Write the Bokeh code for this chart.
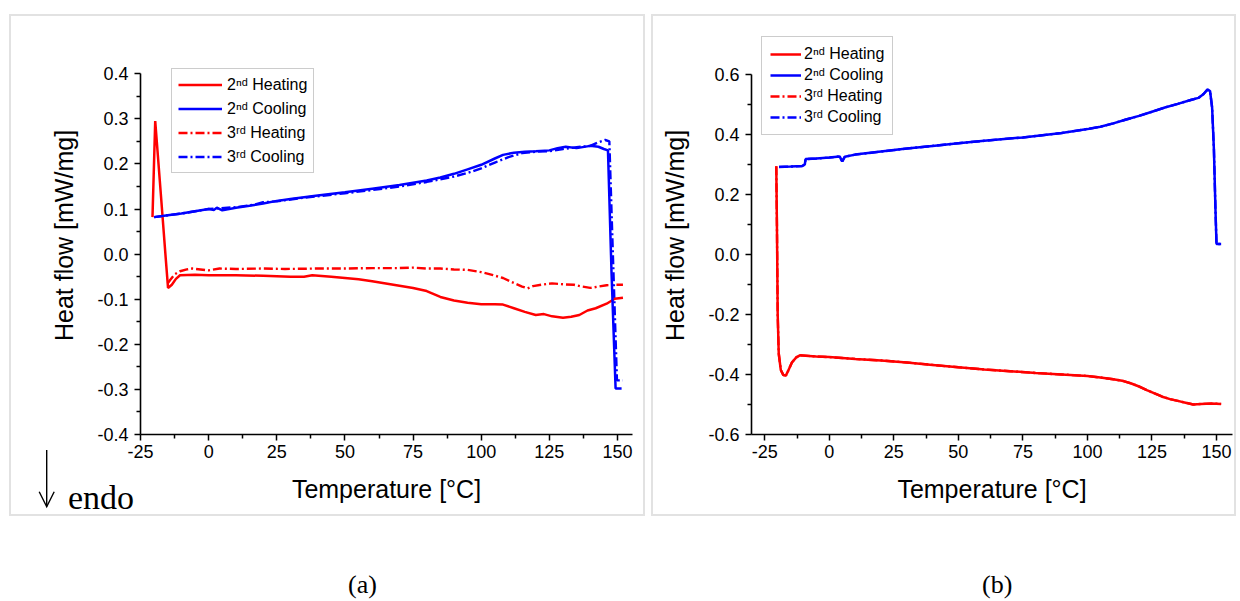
from bokeh.plotting import figure
from bokeh.models import Range1d, FixedTicker, Legend, LegendItem, Div, Spacer, NumeralTickFormatter
from bokeh.layouts import column, row
from bokeh.embed import file_html
from bokeh.resources import INLINE

# ---------------- data: panel (a) ----------------
h2a_x = [-20.6, -19.6, -17.5, -15.8, -14.9, -13.5, -12.0, -10.5, -5, 0, 10, 20, 30, 35, 38, 45, 50, 55, 60, 65,
         70, 75, 80, 85, 90, 95, 100, 105, 108, 112, 116, 120, 123, 126, 130, 133, 136, 139, 142, 146, 149, 152]
h2a_y = [0.082, 0.295, 0.13, -0.005, -0.075, -0.068, -0.055, -0.047, -0.046, -0.047, -0.047, -0.048, -0.05, -0.05,
         -0.047, -0.05, -0.053, -0.056, -0.06, -0.065, -0.07, -0.075, -0.082, -0.095, -0.103, -0.108, -0.111, -0.111,
         -0.112, -0.12, -0.128, -0.135, -0.133, -0.138, -0.141, -0.139, -0.135, -0.125, -0.12, -0.11, -0.099, -0.097]

h3a_x = [-15.0, -14.2, -12.5, -10.5, -8, -6, -3, 0, 4, 10, 20, 28, 40, 50, 60, 70, 75, 80, 85, 90, 95, 100, 104,
         108, 112, 115, 117, 119, 122, 126, 130, 134, 137, 140, 143, 146, 149, 152]
h3a_y = [-0.065, -0.058, -0.045, -0.038, -0.034, -0.032, -0.034, -0.036, -0.032, -0.033, -0.032, -0.033, -0.032,
         -0.032, -0.031, -0.031, -0.030, -0.032, -0.032, -0.034, -0.035, -0.040, -0.046, -0.053, -0.064, -0.072,
         -0.076, -0.071, -0.068, -0.065, -0.067, -0.068, -0.072, -0.075, -0.072, -0.069, -0.068, -0.068]

c2a_x = [-20.0, -15, -10, -5, 0, 2, 3, 5, 10, 15, 20, 25, 30, 40, 50, 60, 70, 75, 80, 85, 90, 95, 100, 105, 108,
         112, 116, 120, 125, 128, 131, 135, 140, 143, 145, 146.5, 147.8, 149.3, 151.5]
c2a_y = [0.082, 0.086, 0.09, 0.095, 0.1, 0.098, 0.103, 0.097, 0.103, 0.107, 0.112, 0.118, 0.122, 0.13, 0.137, 0.145,
         0.153, 0.158, 0.163, 0.17, 0.178, 0.188, 0.198, 0.212, 0.22, 0.225, 0.227, 0.228, 0.23, 0.235, 0.238, 0.235,
         0.24, 0.238, 0.233, 0.23, -0.04, -0.298, -0.298]

c3a_x = [-20.0, -10, 0, 10, 17, 20, 25, 35, 50, 60, 70, 80, 90, 95, 100, 105, 110, 115, 120, 125, 130, 135, 140,
         143, 145.5, 147, 148.3, 149.8, 152]
c3a_y = [0.082, 0.09, 0.1, 0.104, 0.11, 0.115, 0.117, 0.125, 0.135, 0.142, 0.15, 0.16, 0.172, 0.18, 0.19, 0.203,
         0.215, 0.224, 0.227, 0.228, 0.233, 0.237, 0.24, 0.248, 0.253, 0.25, 0.0, -0.28, -0.28]

# ---------------- data: panel (b) ----------------
h2b_x = [-20.55, -20.3, -20.0, -19.6, -18.8, -17.8, -16.8, -15.8, -14.5, -12.8, -11.4, -8, -5, 0, 5, 10, 20, 30,
         40, 50, 60, 70, 80, 90, 100, 105, 110, 114, 117, 120, 123, 126, 129, 132, 135, 138, 141, 144, 148, 151.8]
h2b_y = [0.294, 0.1, -0.2, -0.33, -0.385, -0.402, -0.403, -0.385, -0.36, -0.343, -0.336, -0.338, -0.34, -0.342,
         -0.345, -0.348, -0.353, -0.36, -0.368, -0.376, -0.383, -0.389, -0.395, -0.4, -0.405, -0.41, -0.416, -0.422,
         -0.43, -0.44, -0.452, -0.463, -0.474, -0.482, -0.488, -0.494, -0.5, -0.498, -0.497, -0.498]

c2b_x = [-19.5, -15, -10.5, -9.5, -9.2, -5, 0, 4, 5, 6, 10, 20, 25, 30, 40, 50, 60, 70, 75, 80, 90, 100, 105, 110,
         115, 120, 125, 130, 135, 140, 143, 145, 146.5, 147.5, 148.3, 149, 149.6, 150, 151.8]
c2b_y = [0.292, 0.293, 0.295, 0.3, 0.318, 0.32, 0.323, 0.327, 0.31, 0.326, 0.333, 0.343, 0.348, 0.353, 0.362, 0.371,
         0.379, 0.387, 0.39, 0.395, 0.405, 0.418, 0.426, 0.437, 0.45, 0.462, 0.476, 0.49, 0.502, 0.515, 0.522, 0.535,
         0.55, 0.545, 0.49, 0.35, 0.15, 0.035, 0.035]

# 3rd runs in (b) lie underneath the 2nd runs
h3b_x, h3b_y = list(h2b_x), list(h2b_y)
c3b_x, c3b_y = list(c2b_x), list(c2b_y)

series_labels = ["2\u207f\u1d48 Heating", "2\u207f\u1d48 Cooling", "3\u02b3\u1d48 Heating", "3\u02b3\u1d48 Cooling"]

x_ticks = [-25, 0, 25, 50, 75, 100, 125, 150]
x_tick_labels = ["-25", "0", "25", "50", "75", "100", "125", "150"]
x_minor = [-12.5, 12.5, 37.5, 62.5, 87.5, 112.5, 137.5]
ya_ticks = [-0.4, -0.3, -0.2, -0.1, 0.0, 0.1, 0.2, 0.3, 0.4]
ya_tick_labels = ["-0.4", "-0.3", "-0.2", "-0.1", "0.0", "0.1", "0.2", "0.3", "0.4"]
ya_minor = [-0.35, -0.25, -0.15, -0.05, 0.05, 0.15, 0.25, 0.35]
yb_ticks = [-0.6, -0.4, -0.2, 0.0, 0.2, 0.4, 0.6]
yb_tick_labels = ["-0.6", "-0.4", "-0.2", "0.0", "0.2", "0.4", "0.6"]
yb_minor = [-0.5, -0.3, -0.1, 0.1, 0.3, 0.5]

RED = "#ff0000"
BLUE = "#0000ff"
DASHDOT = "9 3 2 3"
SANS = "Liberation Sans"


def make_fig(w, h, xr, yr, ybounds, mb, yt, ytl, ym):
    p = figure(width=w, height=h, x_range=Range1d(*xr), y_range=Range1d(*yr),
               output_backend="svg", toolbar_location=None, title=None,
               min_border_left=mb[0], min_border_right=mb[1], min_border_top=mb[2], min_border_bottom=mb[3])
    p.xgrid.visible = False
    p.ygrid.visible = False
    p.outline_line_color = None
    p.background_fill_color = "white"
    p.border_fill_color = "white"
    p.xaxis.ticker = FixedTicker(ticks=x_ticks, minor_ticks=x_minor)
    p.xaxis.major_label_overrides = dict(zip(x_ticks, x_tick_labels))
    p.yaxis.ticker = FixedTicker(ticks=yt, minor_ticks=ym)
    p.yaxis.formatter = NumeralTickFormatter(format="0.0")
    p.yaxis.major_label_overrides = dict(zip(yt, ytl))
    p.yaxis.bounds = ybounds
    for ax in (p.xaxis[0], p.yaxis[0]):
        ax.axis_line_color = "black"
        ax.axis_line_width = 1.6
        ax.major_tick_line_color = "black"
        ax.minor_tick_line_color = "black"
        ax.major_tick_line_width = 1.5
        ax.minor_tick_line_width = 1.5
        ax.major_tick_out = 6
        ax.major_tick_in = 0
        ax.minor_tick_out = 4
        ax.minor_tick_in = 0
        ax.major_label_text_font = SANS
        ax.major_label_text_font_size = "18px"
        ax.major_label_text_color = "black"
        ax.axis_label_text_font = SANS
        ax.axis_label_text_font_size = "25px"
        ax.axis_label_text_font_style = "normal"
        ax.axis_label_text_color = "black"
    p.xaxis.major_label_standoff = 4
    p.yaxis.major_label_standoff = 6
    p.xaxis.axis_label_standoff = 14
    p.yaxis.axis_label_standoff = 16
    p.xaxis.axis_label = "Temperature [°C]"
    p.yaxis.axis_label = "Heat flow [mW/mg]"
    p.styles = {"border": "2px solid #e2e2e2"}
    return p


def add_series(p, data):
    rs = {}
    rs[2] = p.line(data[2][0], data[2][1], line_color=RED, line_width=2.4, line_dash=DASHDOT)
    rs[3] = p.line(data[3][0], data[3][1], line_color=BLUE, line_width=2.4, line_dash=DASHDOT)
    rs[0] = p.line(data[0][0], data[0][1], line_color=RED, line_width=2.5)
    rs[1] = p.line(data[1][0], data[1][1], line_color=BLUE, line_width=2.5)
    return [rs[i] for i in range(4)]


def make_legend(renderers, loc, glyph_w, row_h, spacing, padding, standoff):
    items = [LegendItem(label=lab, renderers=[r]) for lab, r in zip(series_labels, renderers)]
    return Legend(items=items, location=loc, margin=0, padding=padding, spacing=spacing,
                  glyph_width=glyph_w, glyph_height=row_h, label_height=row_h, label_standoff=standoff,
                  label_text_font=SANS, label_text_font_size="16px", label_text_color="black",
                  border_line_color="#9a9a9a", border_line_width=1,
                  background_fill_color="white", background_fill_alpha=1.0)


# ---------------- panel (a) ----------------
pa = make_fig(636, 502, (-25, 155.5), (-0.4, 0.4825), (-0.4, 0.4), (129, 15, 20, 84),
              ya_ticks, ya_tick_labels, ya_minor)
ra = add_series(pa, [(h2a_x, h2a_y), (c2a_x, c2a_y), (h3a_x, h3a_y), (c3a_x, c3a_y)])
pa.add_layout(make_legend(ra, (31, 261), 44, 19, 5, 6, 5))

# ---------------- panel (b) ----------------
pb = make_fig(585, 502, (-30.15, 156.2), (-0.6, 0.7267), (-0.6, 0.6), (98, 6, 20, 84),
              yb_ticks, yb_tick_labels, yb_minor)
rb = add_series(pb, [(h2b_x, h2b_y), (c2b_x, c2b_y), (h3b_x, h3b_y), (c3b_x, c3b_y)])
pb.add_layout(make_legend(rb, (10, 299), 31, 18, 3, 8, 3))

# ---------------- overlay: endo marker and panel captions ----------------
caption_html = (
    '<div style="position:relative;width:1236px;height:150px;color:#000;'
    'font-family:\'Liberation Serif\',\'DejaVu Serif\',serif;">'
    '<svg style="position:absolute;left:30px;top:0px;" width="34" height="70">'
    '<line x1="16.7" y1="4" x2="16.7" y2="60.5" stroke="black" stroke-width="1.4"/>'
    '<polyline points="9.2,45.7 16.7,60.7 24.2,45.7" fill="none" stroke="black" stroke-width="1.4"/>'
    '</svg>'
    '<span style="position:absolute;left:68px;top:35px;font-size:34px;line-height:34px;">endo</span>'
    '<span style="position:absolute;left:348px;top:124px;font-size:26px;line-height:30px;">(a)</span>'
    '<span style="position:absolute;left:982px;top:124px;font-size:26px;line-height:30px;">(b)</span>'
    '</div>')
caption = Div(width=1236, height=150, text=caption_html, margin=(-70, 0, 0, 0))

layout = column(Spacer(width=10, height=14),
                row(Spacer(width=9, height=10), pa, Spacer(width=6, height=10), pb),
                caption)

open("out.html", "w").write(file_html(layout, INLINE))
